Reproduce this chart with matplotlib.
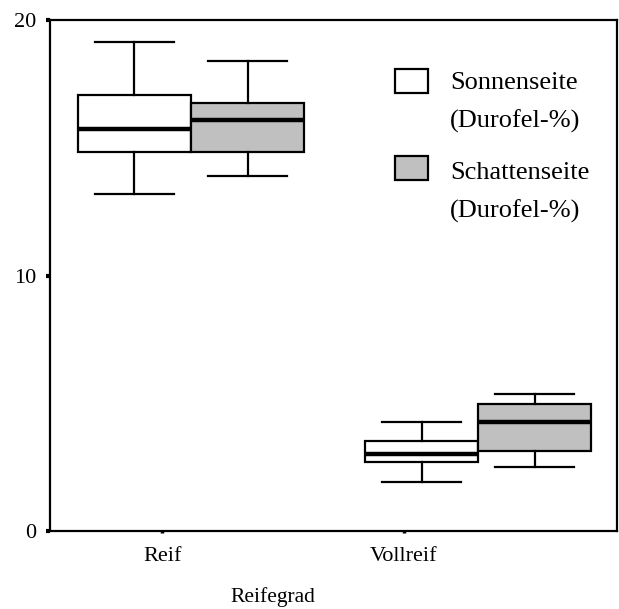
import matplotlib.pyplot as plt
from matplotlib.patches import Rectangle

plt.rcParams['font.family'] = ['Liberation Serif', 'DejaVu Serif']

groups = ['Reif', 'Vollreif']
series = ['Sonnenseite', 'Schattenseite']
unit = '(Durofel-%)'
colors = ['white', '#c0c0c0']

# box statistics per series: lower whisker, Q1, median, Q3, upper whisker
sonne_whislo = [13.2, 1.92]
sonne_q1 = [14.83, 2.70]
sonne_med = [15.73, 3.01]
sonne_q3 = [17.06, 3.52]
sonne_whishi = [19.14, 4.27]

schatten_whislo = [13.9, 2.5]
schatten_q1 = [14.83, 3.13]
schatten_med = [16.09, 4.27]
schatten_q3 = [16.75, 4.97]
schatten_whishi = [18.4, 5.36]

group_pos = [1.0, 2.0]
tick_pos = [0.9, 1.74]
box_w = 0.394

fig = plt.figure(figsize=(6.19, 6.09), dpi=100)
ax = fig.add_axes([0.0808, 0.128, 0.9162, 0.839])


def stats(lo, q1, med, q3, hi):
    return [dict(whislo=a, q1=b, med=c, q3=d, whishi=e, fliers=[])
            for a, b, c, d, e in zip(lo, q1, med, q3, hi)]


data = [
    stats(sonne_whislo, sonne_q1, sonne_med, sonne_q3, sonne_whishi),
    stats(schatten_whislo, schatten_q1, schatten_med, schatten_q3, schatten_whishi),
]
offsets = [-box_w / 2, box_w / 2]

for st, off, col in zip(data, offsets, colors):
    ax.bxp(st, positions=[p + off for p in group_pos], widths=box_w,
           patch_artist=True, showfliers=False, manage_ticks=False,
           boxprops=dict(facecolor=col, edgecolor='black', linewidth=1.6),
           medianprops=dict(color='black', linewidth=3.2),
           whiskerprops=dict(color='black', linewidth=1.6),
           capprops=dict(color='black', linewidth=1.6),
           capwidths=box_w * 0.7)

ax.set_xlim(0.509, 2.484)
ax.set_ylim(0, 20)
ax.set_yticks([0, 10, 20])
ax.set_xticks(tick_pos)
ax.set_xticklabels(groups, fontsize=16)
ax.tick_params(axis='x', length=1.5, width=2.5, pad=10)
ax.tick_params(axis='y', length=3, width=3, pad=7, labelsize=16)
for s in ax.spines.values():
    s.set_linewidth(1.6)

ax.set_xlabel('Reifegrad', fontsize=15.5)
ax.xaxis.set_label_coords(0.393, -0.11)

# legend: swatch plus two-line label
legend_rows = [(0.857, 0.865, 0.789), (0.687, 0.689, 0.614)]
for col, name, (y0, y1, y2) in zip(colors, series, legend_rows):
    ax.add_patch(Rectangle((0.608, y0), 0.058, 0.047, transform=ax.transAxes,
                           facecolor=col, edgecolor='black', linewidth=1.6))
    ax.text(0.705, y1, name, transform=ax.transAxes, fontsize=19, va='baseline')
    ax.text(0.705, y2, unit, transform=ax.transAxes, fontsize=19, va='baseline')

fig.savefig('out.png', dpi=100)
